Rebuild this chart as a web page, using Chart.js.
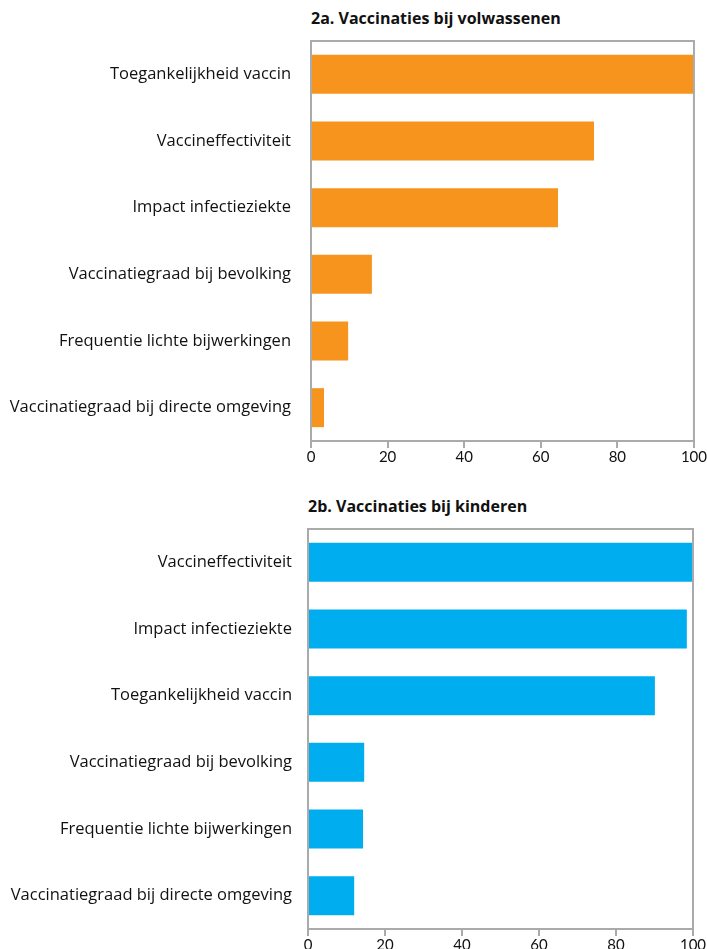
<!DOCTYPE html>
<html>
<head>
<meta charset="utf-8">
<script src="https://cdn.jsdelivr.net/npm/chart.js@4.4.0/dist/chart.umd.min.js"></script>
<style>
  body { margin: 0; background: #fff; width: 707px; height: 949px; position: relative; overflow: hidden; }
  .title { position: absolute; font-family: "Open Sans", sans-serif; font-weight: 700; font-size: 16px; color: #111; white-space: nowrap; }
  .wrap { position: absolute; left: 0; width: 707px; height: 475px; }
</style>
</head>
<body>
<div class="title" style="left:311px; top:7px;">2a. Vaccinaties bij volwassenen</div>
<div class="wrap" style="top:0;"><canvas id="chart1"></canvas></div>
<div class="title" style="left:308px; top:495px;">2b. Vaccinaties bij kinderen</div>
<div class="wrap" style="top:488px;"><canvas id="chart2"></canvas></div>
<script>
const adultLabels = [
  'Toegankelijkheid vaccin',
  'Vaccineffectiviteit',
  'Impact infectieziekte',
  'Vaccinatiegraad bij bevolking',
  'Frequentie lichte bijwerkingen',
  'Vaccinatiegraad bij directe omgeving'
]
const adultValues = [100, 73.9, 64.5, 15.9, 9.7, 3.4]

const childLabels = [
  'Vaccineffectiviteit',
  'Impact infectieziekte',
  'Toegankelijkheid vaccin',
  'Vaccinatiegraad bij bevolking',
  'Frequentie lichte bijwerkingen',
  'Vaccinatiegraad bij directe omgeving'
]
const childValues = [100, 98.4, 90.1, 14.6, 14.3, 12]

const xTicks = [0, 20, 40, 60, 80, 100]

// top + right edge of the box round the plot
const boxPlugin = {
  id: 'box',
  afterDraw(chart) {
    const a = chart.chartArea
    const c = chart.ctx
    c.save()
    c.strokeStyle = '#aaaaaa'
    c.lineWidth = 2
    c.beginPath()
    c.moveTo(a.left, a.top)
    c.lineTo(a.right, a.top)
    c.lineTo(a.right, a.bottom)
    c.stroke()
    c.restore()
  }
}

function makeChart(id, labels, values, color, opts) {
  return new Chart(document.getElementById(id), {
    type: 'bar',
    data: {
      labels: labels,
      datasets: [{
        data: values,
        backgroundColor: color,
        borderWidth: 0,
        categoryPercentage: 1,
        barPercentage: 0.585
      }]
    },
    options: {
      indexAxis: 'y',
      responsive: true,
      maintainAspectRatio: false,
      animation: false,
      layout: { padding: { top: 41, right: opts.right, left: 0, bottom: 0 } },
      plugins: { legend: { display: false }, tooltip: { enabled: false } },
      scales: {
        x: {
          min: 0,
          max: 100,
          afterBuildTicks(axis) { axis.ticks = xTicks.map(v => ({ value: v })) },
          afterFit(axis) { axis.height = 34 },
          grid: { display: true, drawOnChartArea: false, drawTicks: true, tickLength: 7, color: '#aaaaaa', lineWidth: 2 },
          border: { display: true, color: '#aaaaaa', width: 2 },
          ticks: { color: '#111', padding: 0, maxRotation: 0, font: { family: 'Lato', size: 15 } }
        },
        y: {
          afterFit(axis) { axis.width = opts.left },
          grid: { display: false },
          border: { display: true, color: '#aaaaaa', width: 2 },
          ticks: { color: '#111', padding: opts.pad, font: { family: 'Open Sans', size: 16.5, weight: opts.weight } }
        }
      }
    },
    plugins: [boxPlugin]
  })
}

makeChart('chart1', adultLabels, adultValues, '#F7941D', { left: 311, right: 13, weight: 500, pad: 12 })
makeChart('chart2', childLabels, childValues, '#00AEEF', { left: 308, right: 14, weight: 400, pad: 8 })
</script>
</body>
</html>
